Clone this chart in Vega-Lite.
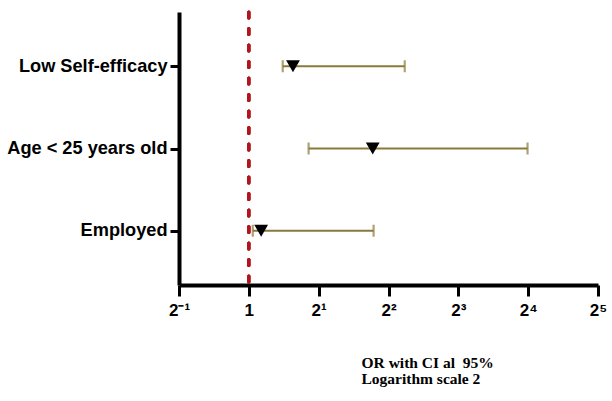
{
  "$schema": "https://vega.github.io/schema/vega-lite/v6.json",
  "autosize": "none",
  "width": 419,
  "height": 273,
  "padding": {"left": 179, "top": 12, "right": 14, "bottom": 116},
  "background": "white",
  "config": {"view": {"stroke": null}},
  "data": {
    "values": [
      {"factor": "Low Self-efficacy", "or": 1.55, "low": 1.40, "high": 4.70},
      {"factor": "Age < 25 years old", "or": 3.42, "low": 1.81, "high": 15.9},
      {"factor": "Employed", "or": 1.13, "low": 1.04, "high": 3.45}
    ]
  },
  "encoding": {
    "y": {
      "field": "factor",
      "type": "nominal",
      "sort": ["Low Self-efficacy", "Age < 25 years old", "Employed"],
      "scale": {"type": "point", "padding": 0.66},
      "axis": {
        "title": null,
        "domainColor": "black",
        "domainWidth": 4,
        "tickColor": "black",
        "tickWidth": 3,
        "tickSize": 9,
        "labelFont": "Liberation Sans",
        "labelFontWeight": "bold",
        "labelFontSize": 18.2,
        "labelColor": "black",
        "labelPadding": 3,
        "grid": false
      }
    }
  },
  "layer": [
    {
      "mark": {"type": "rule", "color": "#B0141C", "strokeWidth": 3.2, "strokeDash": [6, 10.5], "strokeCap": "round"},
      "encoding": {"x": {"datum": 1, "type": "quantitative"}, "y": null}
    },
    {
      "mark": {"type": "rule", "color": "#8A7A3A", "strokeWidth": 2.2},
      "encoding": {
        "x": {
          "field": "low",
          "type": "quantitative",
          "scale": {"type": "log", "base": 2, "domain": [0.5, 32], "nice": false},
          "axis": {
            "values": [0.5, 1, 2, 4, 8, 16, 32],
            "labelExpr": "datum.value == 0.5 ? '2⁻¹' : datum.value == 1 ? '1' : datum.value == 2 ? '2¹' : datum.value == 4 ? '2²' : datum.value == 8 ? '2³' : datum.value == 16 ? '2⁴' : '2⁵'",
            "domainColor": "black",
            "domainWidth": 4,
            "tickColor": "black",
            "tickWidth": 3,
            "tickSize": 11,
            "labelFont": "Liberation Sans",
            "labelFontWeight": "bold",
            "labelFontSize": 17,
            "labelColor": "black",
            "labelPadding": 6,
            "labelFlush": false,
            "labelOverlap": false,
            "grid": false,
            "title": ["OR with CI al \u00a095%", "Logarithm scale 2"],
            "titleFont": "Liberation Serif",
            "titleFontWeight": "bold",
            "titleFontSize": 15.5,
            "titleColor": "black",
            "titleAnchor": "start",
            "titleAlign": "left",
            "titleBaseline": "alphabetic",
            "titleLineHeight": 16.5,
            "titleX": 182,
            "titleY": 82
          }
        },
        "x2": {"field": "high"}
      }
    },
    {
      "mark": {"type": "tick", "orient": "vertical", "color": "#8A7A3A", "thickness": 2.2, "size": 12},
      "encoding": {"x": {"field": "low", "type": "quantitative"}}
    },
    {
      "mark": {"type": "tick", "orient": "vertical", "color": "#8A7A3A", "thickness": 2.2, "size": 12},
      "encoding": {"x": {"field": "high", "type": "quantitative"}}
    },
    {
      "mark": {"type": "point", "shape": "triangle-down", "filled": true, "color": "black", "opacity": 1, "size": 190},
      "encoding": {"x": {"field": "or", "type": "quantitative"}}
    }
  ]
}
